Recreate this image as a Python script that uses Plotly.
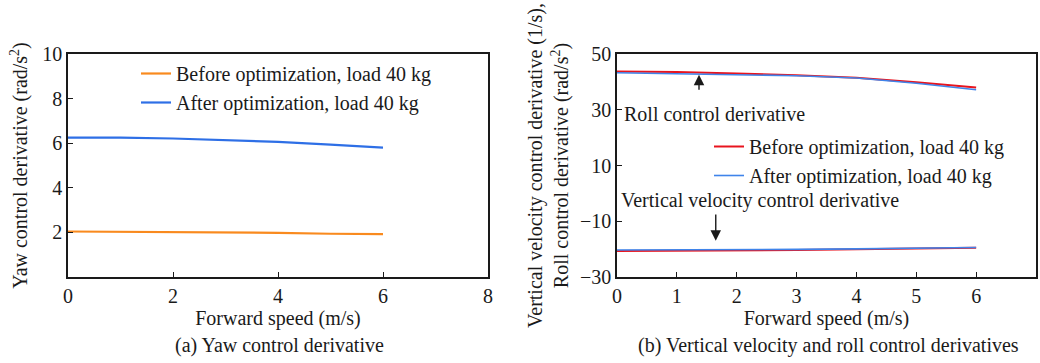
import plotly.graph_objects as go

# ---- data ----
speed = [0, 1, 2, 3, 4, 5, 6]
yaw_before = [2.04, 2.03, 2.02, 2.00, 1.98, 1.94, 1.92]
yaw_after = [6.25, 6.25, 6.21, 6.15, 6.06, 5.94, 5.80]
roll_before = [43.7, 43.5, 43.0, 42.4, 41.5, 39.9, 38.0]
roll_after = [43.3, 43.0, 42.6, 42.2, 41.4, 39.5, 37.2]
vert_before = [-20.7, -20.6, -20.5, -20.3, -20.0, -19.8, -19.5]
vert_after = [-20.3, -20.3, -20.2, -20.1, -19.9, -19.7, -19.4]

x_ticks_a = [0, 2, 4, 6, 8]
y_ticks_a = [2, 4, 6, 8, 10]
x_ticks_b = [0, 1, 2, 3, 4, 5, 6, 7]
y_ticks_b = [-30, -10, 10, 30, 50]

FONT = "Liberation Serif, Times New Roman, serif"
FS = 20
W, H = 1040, 363

fig = go.Figure()

fig.add_trace(go.Scatter(x=speed, y=yaw_before, mode="lines", name="Before optimization, load 40 kg",
                         line=dict(color="#F98A1E", width=2.2), xaxis="x", yaxis="y", legend="legend"))
fig.add_trace(go.Scatter(x=speed, y=yaw_after, mode="lines", name="After optimization, load 40 kg",
                         line=dict(color="#2E6FE6", width=2.2), xaxis="x", yaxis="y", legend="legend"))

fig.add_trace(go.Scatter(x=speed, y=roll_before, mode="lines", name="Before optimization, load 40 kg",
                         line=dict(color="#E8141E", width=2), xaxis="x2", yaxis="y2", legend="legend2"))
fig.add_trace(go.Scatter(x=speed, y=roll_after, mode="lines", name="After optimization, load 40 kg",
                         line=dict(color="#3F84EA", width=1.6), xaxis="x2", yaxis="y2", legend="legend2"))
fig.add_trace(go.Scatter(x=speed, y=vert_before, mode="lines", showlegend=False,
                         line=dict(color="#E8141E", width=2), xaxis="x2", yaxis="y2"))
fig.add_trace(go.Scatter(x=speed, y=vert_after, mode="lines", showlegend=False,
                         line=dict(color="#3F84EA", width=1.6), xaxis="x2", yaxis="y2"))

y_dom = [1 - 277 / H, 1 - 54 / H]
axis_common = dict(showline=True, mirror=True, linecolor="#1a1a1a", linewidth=1.6, automargin=False,
                   showgrid=False, zeroline=False, ticks="inside", ticklen=5, tickwidth=1.4,
                   tickcolor="#1a1a1a", tickfont=dict(family=FONT, size=FS, color="#1a1a1a"))

fig.update_layout(
    width=W, height=H, margin=dict(l=0, r=0, t=0, b=0, autoexpand=False),
    paper_bgcolor="white", plot_bgcolor="white",
    font=dict(family=FONT, size=FS, color="#1a1a1a"),
    xaxis=dict(domain=[68 / W, 488 / W], range=[0, 8], tickvals=x_ticks_a, anchor="y",
               title=dict(text="Forward speed (m/s)", font=dict(size=FS), standoff=4), **axis_common),
    yaxis=dict(domain=y_dom, range=[0, 10], tickvals=y_ticks_a, anchor="x",
               title=dict(text="Yaw control derivative (rad/s<sup>2</sup>)", font=dict(size=FS), standoff=9),
               **axis_common),
    xaxis2=dict(domain=[617 / W, 1036 / W], range=[0, 7], tickvals=x_ticks_b, anchor="y2",
                title=dict(text="Forward speed (m/s)", font=dict(size=FS), standoff=4), **axis_common),
    yaxis2=dict(domain=y_dom, range=[-30, 50], tickvals=y_ticks_b, anchor="x2",
                title=dict(text="Vertical velocity control derivative (1/s),<br>Roll control derivative (rad/s<sup>2</sup>)",
                           font=dict(size=FS), standoff=6),
                **axis_common),
    legend=dict(x=136 / W, y=1 - 54 / H, xanchor="left", yanchor="top", bgcolor="rgba(0,0,0,0)",
                font=dict(family=FONT, size=FS), tracegroupgap=0, itemwidth=30),
    legend2=dict(x=709 / W, y=1 - 127 / H, xanchor="left", yanchor="top", bgcolor="rgba(0,0,0,0)",
                 font=dict(family=FONT, size=FS), tracegroupgap=0, itemwidth=30),
    showlegend=True,
)

# captions
fig.add_annotation(text="(a) Yaw control derivative", xref="paper", yref="paper",
                   x=279 / W, y=1 - 345 / H, showarrow=False, font=dict(family=FONT, size=FS),
                   xanchor="center", yanchor="middle")
fig.add_annotation(text="(b) Vertical velocity and roll control derivatives", xref="paper", yref="paper",
                   x=828 / W, y=1 - 345 / H, showarrow=False, font=dict(family=FONT, size=FS),
                   xanchor="center", yanchor="middle")

# curve labels with arrows
fig.add_annotation(text="Roll control derivative", xref="x2", yref="y2", x=0.09, y=28.5,
                   xanchor="left", yanchor="middle", showarrow=False, font=dict(family=FONT, size=FS))
fig.add_annotation(x=1.37, y=42.6, ax=1.37, ay=36.6, xref="x2", yref="y2", axref="x2", ayref="y2",
                   text="", showarrow=True, arrowhead=2, arrowsize=1.5, arrowwidth=1.4, arrowcolor="#1a1a1a")
fig.add_annotation(text="Vertical velocity control derivative", xref="x2", yref="y2", x=0.03, y=-2.5,
                   xanchor="left", yanchor="middle", showarrow=False, font=dict(family=FONT, size=FS))
fig.add_annotation(x=1.65, y=-17.0, ax=1.65, ay=-7.0, xref="x2", yref="y2", axref="x2", ayref="y2",
                   text="", showarrow=True, arrowhead=2, arrowsize=1.5, arrowwidth=1.4, arrowcolor="#1a1a1a")

fig.write_html("out.html", config={"displayModeBar": False},
               post_script="document.body.style.margin='0';document.body.style.overflow='hidden';")
